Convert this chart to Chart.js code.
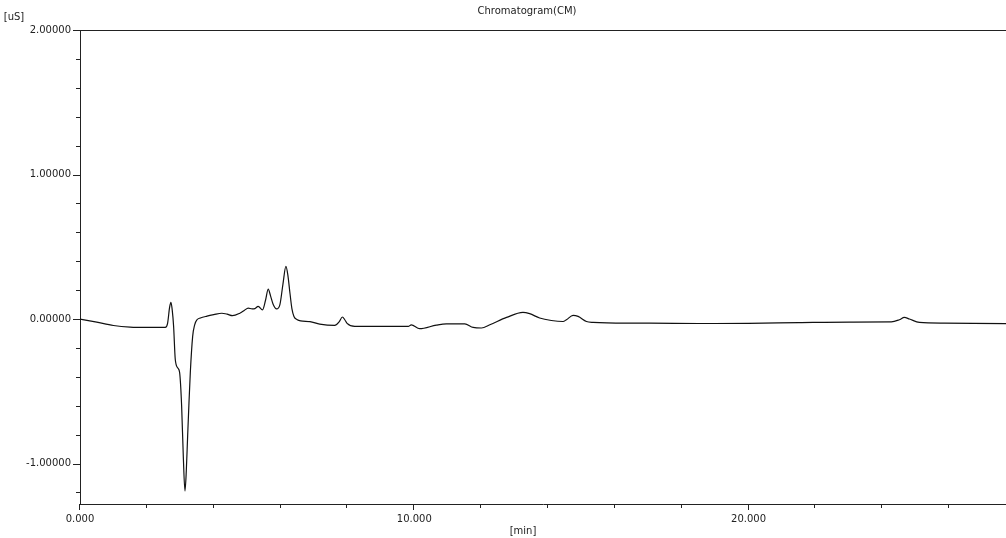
<!DOCTYPE html>
<html>
<head>
<meta charset="utf-8">
<script src="https://cdn.jsdelivr.net/npm/chart.js@4"></script>
<style>
html, body { margin: 0; padding: 0; background: #fff; }
</style>
</head>
<body>
<canvas id="chart" width="1006" height="538"></canvas>
<script>
// retention time [min]
const times = [
    0.00, 0.50, 1.00, 1.50, 2.00, 2.55, 2.62, 2.68, 2.72, 2.76,
    2.80, 2.85, 2.93, 2.98, 3.04, 3.09, 3.14, 3.18, 3.22, 3.26,
    3.30, 3.37, 3.43, 3.50, 3.60, 3.80, 4.00, 4.24, 4.40, 4.56,
    4.78, 4.92, 5.03, 5.15, 5.23, 5.33, 5.46, 5.55, 5.63, 5.70,
    5.78, 5.88, 5.98, 6.07, 6.16, 6.22, 6.28, 6.34, 6.40, 6.50,
    6.60, 6.88, 7.17, 7.62, 7.75, 7.85, 7.92, 7.99, 8.22, 9.00,
    9.82, 9.91, 10.16, 10.66, 10.96, 11.51, 11.76, 12.01, 12.26, 12.76,
    13.25, 13.45, 13.75, 14.10, 14.45, 14.55, 14.75, 14.90, 15.15, 15.35,
    16.34, 17.04, 18.50, 20.00, 21.50, 23.02, 24.27, 24.51, 24.66, 24.81,
    25.11, 25.86, 27.70
];
// conductivity [uS]
const signal = [
    0.000, -0.022, -0.045, -0.056, -0.058, -0.058, -0.030, 0.080, 0.115, 0.060,
    -0.050, -0.280, -0.340, -0.370, -0.600, -0.950, -1.190, -1.050, -0.810, -0.580,
    -0.370, -0.120, -0.040, -0.005, 0.007, 0.020, 0.030, 0.040, 0.034, 0.023,
    0.040, 0.060, 0.076, 0.070, 0.072, 0.088, 0.064, 0.130, 0.207, 0.160,
    0.100, 0.070, 0.100, 0.240, 0.364, 0.300, 0.180, 0.070, 0.018, -0.005,
    -0.013, -0.018, -0.035, -0.044, -0.020, 0.014, -0.005, -0.030, -0.051, -0.051,
    -0.051, -0.040, -0.067, -0.042, -0.033, -0.033, -0.058, -0.062, -0.040, 0.011,
    0.046, 0.037, 0.007, -0.010, -0.017, -0.005, 0.025, 0.018, -0.017, -0.023,
    -0.028, -0.028, -0.031, -0.030, -0.025, -0.021, -0.020, -0.005, 0.011, 0.000,
    -0.023, -0.028, -0.032
];

const X_MIN = 0, X_MAX = 27.7, X_STEP = 2, X_LABEL_EVERY = 10;
const Y_MIN = -1.28, Y_MAX = 2.0, Y_STEP = 0.2, Y_LABEL_EVERY = 1;

const chartTitle = 'Chromatogram(CM)';
const yUnit = '[uS]';
const xUnit = '[min]';

const INK = '#222';
const FONT = '10px "DejaVu Sans"';

function isMultiple(v, m) {
    const r = v / m;
    return Math.abs(r - Math.round(r)) < 1e-6;
}

// short/long tick marks, top frame line and the unit / title texts
const axisDecor = {
    id: 'axisDecor',
    afterDraw(chart) {
        const { ctx, chartArea, scales } = chart;
        ctx.save();
        ctx.strokeStyle = INK;
        ctx.lineWidth = 1;
        ctx.beginPath();
        ctx.moveTo(chartArea.left, chartArea.top + 0.5);
        ctx.lineTo(chartArea.right, chartArea.top + 0.5);
        scales.x.ticks.forEach(t => {
            const px = Math.round(scales.x.getPixelForValue(t.value)) - 0.5;
            const len = isMultiple(t.value, X_LABEL_EVERY) ? 6 : 4;
            ctx.moveTo(px, chartArea.bottom);
            ctx.lineTo(px, chartArea.bottom + len);
        });
        scales.y.ticks.forEach(t => {
            const py = Math.round(scales.y.getPixelForValue(t.value)) + 0.5;
            const len = isMultiple(t.value, Y_LABEL_EVERY) ? 7 : 4;
            ctx.moveTo(chartArea.left - len, py);
            ctx.lineTo(chartArea.left, py);
        });
        ctx.stroke();

        ctx.fillStyle = INK;
        ctx.font = FONT;
        ctx.textAlign = 'center';
        ctx.textBaseline = 'middle';
        ctx.fillText(chartTitle, 527, 11);
        ctx.fillText(yUnit, 14, 17);
        ctx.fillText(xUnit, 523, 531);
        ctx.restore();
    }
};

const points = times.map((t, i) => ({ x: t, y: signal[i] }));

new Chart(document.getElementById('chart'), {
    type: 'line',
    data: {
        datasets: [{
            data: points,
            borderColor: '#111',
            borderWidth: 1.2,
            pointRadius: 0,
            cubicInterpolationMode: 'monotone',
            fill: false
        }]
    },
    options: {
        responsive: false,
        animation: false,
        devicePixelRatio: 1,
        layout: { padding: { top: 30, right: 0, bottom: 0, left: 0 } },
        plugins: {
            legend: { display: false },
            tooltip: { enabled: false }
        },
        scales: {
            x: {
                type: 'linear',
                min: X_MIN,
                max: X_MAX,
                grid: { display: false },
                border: { display: true, color: INK, width: 1 },
                afterFit: s => { s.height = 34; },
                ticks: {
                    stepSize: X_STEP,
                    includeBounds: false,
                    autoSkip: false,
                    maxRotation: 0,
                    padding: 1,
                    color: INK,
                    font: { family: 'DejaVu Sans', size: 10 },
                    callback: v => isMultiple(v, X_LABEL_EVERY) ? v.toFixed(3) : ''
                }
            },
            y: {
                min: Y_MIN,
                max: Y_MAX,
                grid: { display: false },
                border: { display: true, color: INK, width: 1 },
                afterFit: s => { s.width = 80; },
                ticks: {
                    stepSize: Y_STEP,
                    includeBounds: false,
                    autoSkip: false,
                    padding: 1,
                    color: INK,
                    font: { family: 'DejaVu Sans', size: 10 },
                    callback: v => isMultiple(v, Y_LABEL_EVERY) ? v.toFixed(5) : ''
                }
            }
        }
    },
    plugins: [axisDecor]
});
</script>
</body>
</html>
